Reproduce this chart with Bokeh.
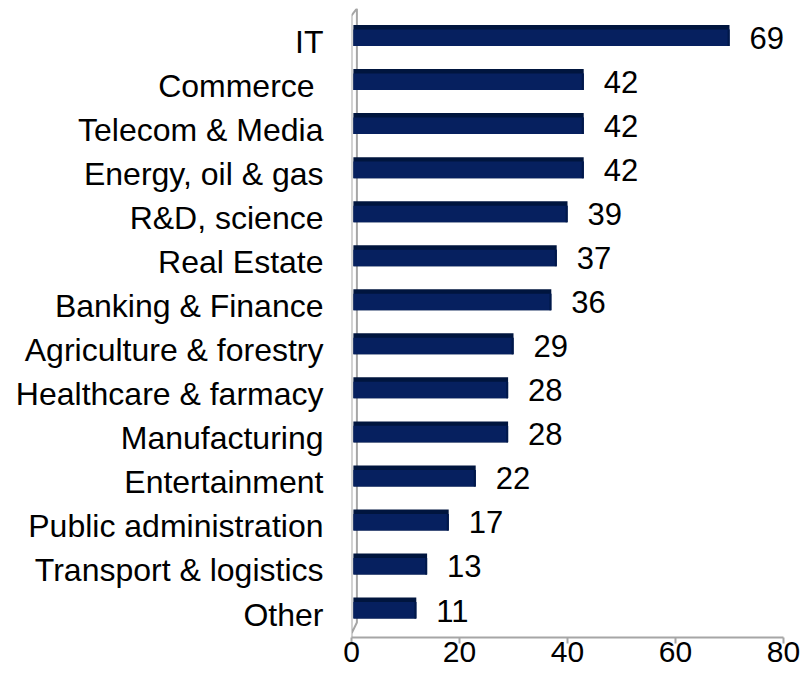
from bokeh.plotting import figure
from bokeh.models import Range1d, FixedTicker, ColumnDataSource, LabelSet
from bokeh.core.properties import value
from bokeh.embed import file_html
from bokeh.resources import INLINE

# ---- data ----
categories = ["IT", "Commerce\u00a0", "Telecom & Media", "Energy, oil & gas", "R&D, science",
              "Real Estate", "Banking & Finance", "Agriculture & forestry",
              "Healthcare & farmacy", "Manufacturing", "Entertainment",
              "Public administration", "Transport & logistics", "Other"]
values = [69, 42, 42, 42, 39, 37, 36, 29, 28, 28, 22, 17, 13, 11]
x_ticks = [0, 20, 40, 60, 80]

# ---- style ----
FONT = "Liberation Sans"
FRONT = "#06205F"
TOP = "#00153E"
EDGE = "#00184A"
GRAY = "#A6A6A6"
DEPTH_X = 1.0          # 3D depth of bars, in axis units
BAR_LEFT = 0.35
Y_TOP = -0.761
Y_BOTTOM = 13.522

rows = list(range(len(categories)))
right = [v + DEPTH_X for v in values]

src = ColumnDataSource(dict(
    y=rows,
    front_y=[r - 0.0965 for r in rows],
    back_y=[r - 0.147 for r in rows],
    right=right,
    edge_left=[r - 0.35 for r in right],
    left=[BAR_LEFT] * len(rows),
    label=[str(v) for v in values],
))

p = figure(width=808, height=678,
           x_range=Range1d(0, 80), y_range=Range1d(Y_BOTTOM, Y_TOP),
           output_backend="svg", toolbar_location=None,
           min_border_left=351, min_border_right=25,
           min_border_top=8, min_border_bottom=41)
p.outline_line_color = None
p.grid.visible = False
p.background_fill_color = "white"

# 3D wall at the category axis
p.line(x=[0, 0, DEPTH_X, DEPTH_X, 0],
       y=[Y_BOTTOM, Y_TOP + 0.16, Y_TOP, Y_BOTTOM - 0.34, Y_BOTTOM - 0.09],
       line_color=GRAY, line_width=2)

# bars: top face (behind), front face, right edge
p.hbar(y="back_y", left="left", right="right", height=0.477, source=src,
       fill_color=TOP, line_color=None)
p.hbar(y="front_y", left="left", right="right", height=0.375, source=src,
       fill_color=FRONT, line_color=None)
p.hbar(y="front_y", left="edge_left", right="right", height=0.375, source=src,
       fill_color=EDGE, line_color=None)

# value labels
p.add_layout(LabelSet(x="right", y="y", text="label", source=src,
                      x_offset=20, y_offset=4,
                      text_align="left", text_baseline="middle",
                      text_font=value(FONT), text_font_size="31px", text_color="black"))

# x axis
xa = p.xaxis[0]
xa.ticker = FixedTicker(ticks=x_ticks)
xa.axis_line_color = GRAY
xa.axis_line_width = 2
xa.major_tick_line_color = GRAY
xa.major_tick_line_width = 2
xa.major_tick_out = 6
xa.major_tick_in = 0
xa.minor_tick_line_color = None
xa.major_label_standoff = -2
xa.major_label_text_font = FONT
xa.major_label_text_font_size = "30px"
xa.major_label_text_color = "black"

# y axis (categories)
ya = p.yaxis[0]
ya.ticker = FixedTicker(ticks=rows)
ya.major_label_overrides = {r: c for r, c in zip(rows, categories)}
ya.axis_line_color = None
ya.major_tick_line_color = None
ya.minor_tick_line_color = None
ya.major_tick_out = 0
ya.major_tick_in = 0
ya.major_label_standoff = 28
ya.major_label_text_font = FONT
ya.major_label_text_font_size = "32px"
ya.major_label_text_color = "black"

open("out.html", "w").write(file_html(p, INLINE))
